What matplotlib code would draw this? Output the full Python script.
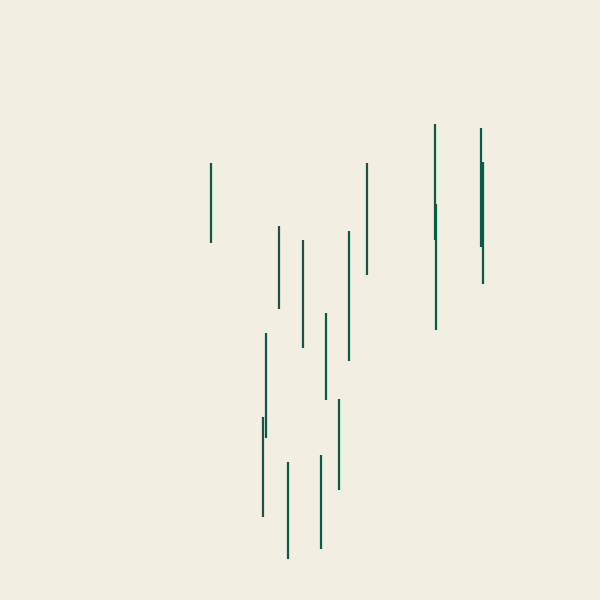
import matplotlib
matplotlib.use('Agg')
import matplotlib.pyplot as plt

# range segments
x_pos = [211, 263.3, 266, 278.7, 288.3, 303.3, 321, 326, 339, 349, 367, 435, 436, 480.7, 483]
high = [437, 183.3, 267, 374, 138.3, 360.3, 145, 287, 201, 369, 437, 476, 396, 472.3, 438.3]
low = [357, 83, 162, 291, 41, 252, 51, 200, 110, 239, 325, 360, 270, 353.3, 316]

bg = '#f2eee1'
col = '#0b5a46'

fig = plt.figure(figsize=(6, 6), dpi=100, facecolor=bg)
ax = fig.add_axes([0, 0, 1, 1])
ax.set_facecolor(bg)

ax.vlines(x_pos, low, high, color=col, lw=1.6)

ax.set_xlim(0, 600)
ax.set_ylim(0, 600)
ax.axis('off')

fig.savefig('out.png', dpi=100, facecolor=bg)
